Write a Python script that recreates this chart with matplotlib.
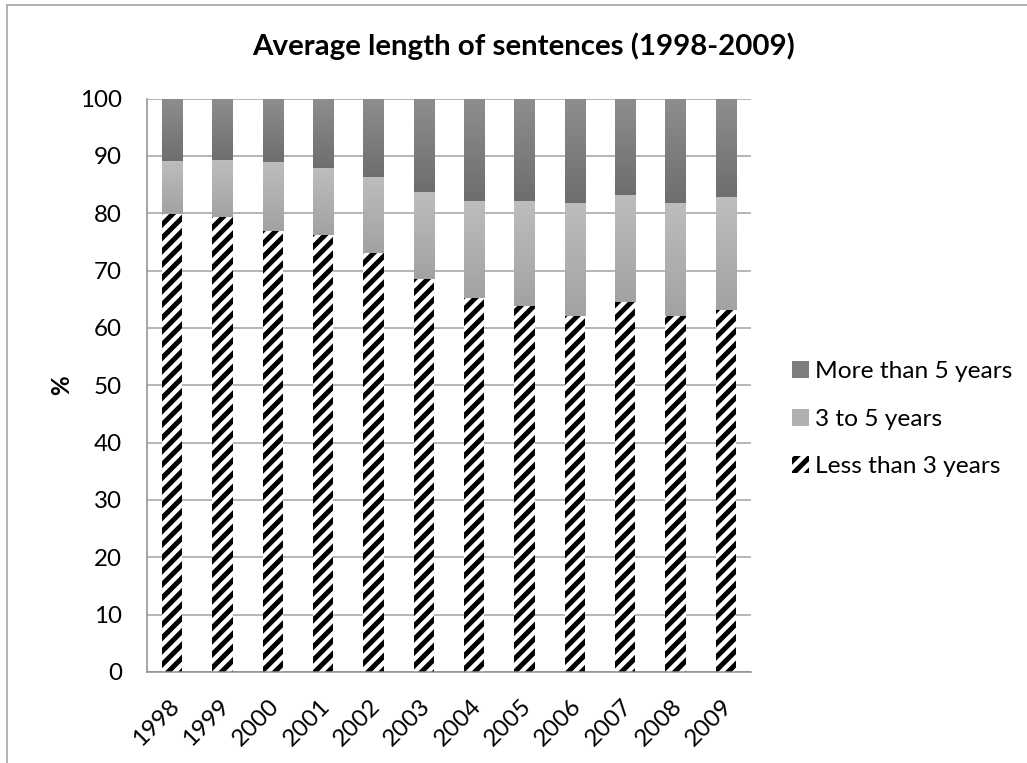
import numpy as np
import matplotlib.pyplot as plt
import matplotlib.transforms as mtransforms
from matplotlib.colors import LinearSegmentedColormap
from matplotlib.patches import Patch

plt.rcParams['font.family'] = ['Lato', 'DejaVu Sans']
plt.rcParams['hatch.color'] = 'black'
plt.rcParams['hatch.linewidth'] = 3.0

# share of sentences per year (%), stacked bottom to top
years = ['1998', '1999', '2000', '2001', '2002', '2003',
         '2004', '2005', '2006', '2007', '2008', '2009']
less_3 = [79.9, 79.4, 76.9, 76.2, 73.0, 68.5, 65.3, 63.8, 62.0, 64.5, 62.0, 63.2]
from_3_to_5 = [9.2, 9.9, 12.0, 11.6, 13.3, 15.2, 16.8, 18.3, 19.7, 18.6, 19.7, 19.7]
more_5 = [100 - a - b for a, b in zip(less_3, from_3_to_5)]
yticks = list(range(0, 101, 10))

DPI = 120
fig = plt.figure(figsize=(1027 / DPI, 763 / DPI), dpi=DPI)
ax = fig.add_axes([147 / 1027, 1 - 672 / 763, 604 / 1027, 573.5 / 763])

x = np.arange(len(years))
w = 0.4
HATCH = '///'

ax.bar(x, less_3, w, color='white', edgecolor='black', linewidth=0,
       hatch=HATCH, zorder=2)
mid = ax.bar(x, from_3_to_5, w, bottom=less_3, color='#b0b0b0',
             linewidth=0, zorder=2)
top = ax.bar(x, more_5, w, bottom=np.add(less_3, from_3_to_5),
             color='#7e7e7e', linewidth=0, zorder=2)

# vertical gradient inside every grey segment
light_cmap = LinearSegmentedColormap.from_list('light', ['#a2a2a2', '#bdbdbd'])
dark_cmap = LinearSegmentedColormap.from_list('dark', ['#6e6e6e', '#8e8e8e'])
grad = np.linspace(0, 1, 64).reshape(-1, 1)
for bars, cmap in [(mid, light_cmap), (top, dark_cmap)]:
    for p in bars:
        x0, y0 = p.get_x(), p.get_y()
        im = ax.imshow(grad, cmap=cmap, origin='lower', aspect='auto',
                       extent=(x0, x0 + p.get_width(), y0, y0 + p.get_height()),
                       zorder=3, interpolation='bilinear')
        im.set_clip_path(p)

ax.set_xlim(-0.5, len(years) - 0.5)
ax.set_ylim(0, 100)
ax.set_yticks(yticks)
ax.set_xticks(x)
ax.set_xticklabels(years)
ax.grid(axis='y', color='#a0a0a0', linewidth=0.9, zorder=0)
ax.set_axisbelow(True)
for s in ['top', 'right']:
    ax.spines[s].set_visible(False)
for s in ['left', 'bottom']:
    ax.spines[s].set_color('#8c8c8c')
    ax.spines[s].set_linewidth(0.9)

ax.tick_params(axis='y', length=0, pad=15, labelsize=14.5)
ax.tick_params(axis='x', length=0, pad=14, labelsize=14.5)
offset = mtransforms.ScaledTranslation(-4 / DPI, 0, fig.dpi_scale_trans)
for lbl in ax.get_xticklabels():
    lbl.set_rotation(45)
    lbl.set_ha('right')
    lbl.set_va('top')
    lbl.set_rotation_mode('anchor')
    lbl.set_transform(lbl.get_transform() + offset)

ax.set_ylabel('%', fontsize=14.5, fontweight='bold', labelpad=4)

fig.text(524 / 1027, 1 - 46 / 763, 'Average length of sentences (1998-2009)',
         ha='center', va='center', fontsize=17.7, fontweight='bold')

handles = [Patch(facecolor='#7e7e7e'), Patch(facecolor='#b0b0b0'),
           Patch(facecolor='white', edgecolor='black', linewidth=0, hatch=HATCH)]
fig.legend(handles, ['More than 5 years', '3 to 5 years', 'Less than 3 years'],
           loc='upper left', bbox_to_anchor=(792 / 1027, 1 - 361 / 763),
           frameon=False, fontsize=14.7, handlelength=0.7, handleheight=0.7,
           handletextpad=0.25, labelspacing=1.08, borderpad=0, borderaxespad=0)

# chart area frame (left and top edges)
fig.add_artist(plt.Line2D([7 / 1027, 7 / 1027], [0, 1 - 5 / 763],
                          transform=fig.transFigure, color='#a6a6a6', linewidth=1))
fig.add_artist(plt.Line2D([7 / 1027, 1], [1 - 5 / 763, 1 - 5 / 763],
                          transform=fig.transFigure, color='#a6a6a6', linewidth=1))

fig.savefig('out.png', dpi=DPI)
